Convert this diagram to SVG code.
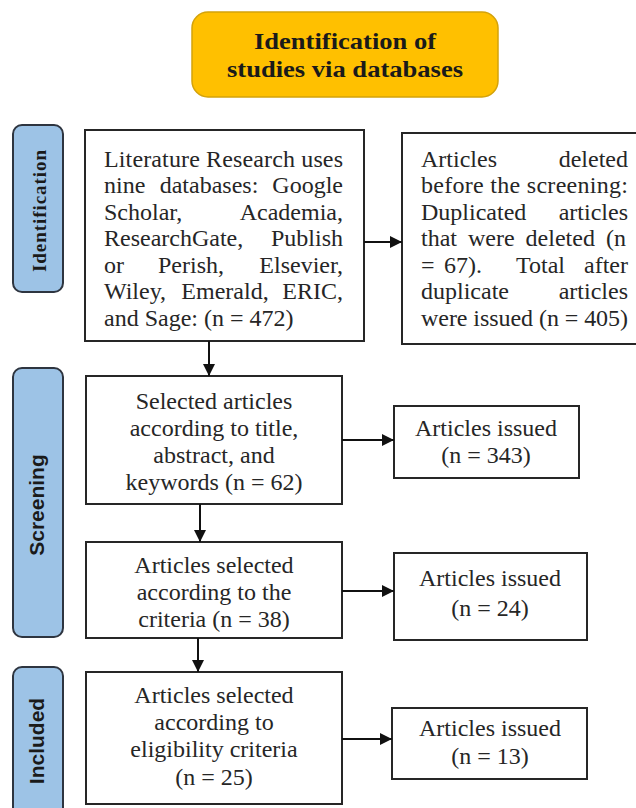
<svg xmlns="http://www.w3.org/2000/svg" width="636" height="808" viewBox="0 0 636 808">
<defs>
<style>
.box{fill:#ffffff;stroke:#262626;stroke-width:2}
.phase{fill:#9dc3e6;stroke:#2e3540;stroke-width:2}
.t{font-family:"Liberation Serif","Times New Roman",serif;font-size:24px;fill:#262626}
.c{text-anchor:middle}
.e{text-anchor:end}
.m{text-anchor:middle}
.ph{font-family:"Liberation Sans",Arial,sans-serif;font-size:21px;font-weight:bold;fill:#1a1a1a;text-anchor:middle}
.conn{stroke:#111;stroke-width:2;fill:none}
</style>
<marker id="arr" markerUnits="userSpaceOnUse" markerWidth="14" markerHeight="14" refX="12" refY="6" orient="auto">
<path d="M0,0 L12,6 L0,12 Z" fill="#111"/>
</marker>
</defs>
<rect width="636" height="808" fill="#ffffff"/>

<g id="header">
<rect x="192" y="12" width="306" height="85" rx="16" fill="#ffc000" stroke="#d4a20a" stroke-width="1.5"/>
<text x="345" y="49" font-family="Liberation Serif,serif" font-size="24" font-weight="bold" fill="#1a1a1a" text-anchor="middle" textLength="182" lengthAdjust="spacingAndGlyphs">Identification of</text>
<text x="345" y="77" font-family="Liberation Serif,serif" font-size="24" font-weight="bold" fill="#1a1a1a" text-anchor="middle" textLength="236" lengthAdjust="spacingAndGlyphs">studies via databases</text>
</g>

<g id="phase-identification">
<rect class="phase" x="13" y="125" width="50" height="167" rx="9"/>
<text transform="translate(46,211) rotate(-90)" font-family="Liberation Serif,serif" font-size="19" font-weight="bold" fill="#1a1a1a" text-anchor="middle" textLength="122" lengthAdjust="spacing">Identification</text>
</g>

<g id="phase-screening">
<rect class="phase" x="13" y="368" width="50" height="269" rx="9"/>
<text class="ph" transform="translate(44,505) rotate(-90)">Screening</text>
</g>

<g id="phase-included">
<rect class="phase" x="13" y="667" width="50" height="160" rx="9"/>
<text class="ph" transform="translate(44,741) rotate(-90)">Included</text>
</g>

<g id="records-identified">
<rect class="box" x="85" y="130" width="279" height="211"/>
<text class="t" x="104" y="167" textLength="239" lengthAdjust="spacing">Literature Research uses</text>
<text class="t" x="104" y="193">nine</text>
<text class="t m" x="209" y="193">databases:</text>
<text class="t e" x="343" y="193">Google</text>
<text class="t" x="104" y="220">Scholar,</text>
<text class="t e" x="343" y="220">Academia,</text>
<text class="t" x="104" y="246">ResearchGate,</text>
<text class="t e" x="343" y="246">Publish</text>
<text class="t" x="104" y="273">or</text>
<text class="t m" x="191" y="273">Perish,</text>
<text class="t e" x="343" y="273">Elsevier,</text>
<text class="t" x="104" y="299">Wiley,</text>
<text class="t m" x="225" y="299">Emerald,</text>
<text class="t e" x="343" y="299">ERIC,</text>
<text class="t" x="104" y="326">and Sage: (n = 472)</text>
</g>

<g id="records-removed">
<rect class="box" x="402" y="133" width="240" height="211"/>
<text class="t" x="421" y="167">Articles</text>
<text class="t e" x="628" y="167">deleted</text>
<text class="t" x="421" y="193" textLength="207" lengthAdjust="spacing">before the screening:</text>
<text class="t" x="421" y="220">Duplicated</text>
<text class="t e" x="628" y="220">articles</text>
<text class="t" x="421" y="246" word-spacing="5">that were deleted (n</text>
<text class="t" x="421" y="273">=</text>
<text class="t" x="444" y="273">67).</text>
<text class="t" x="516" y="273">Total</text>
<text class="t e" x="628" y="273">after</text>
<text class="t" x="421" y="299">duplicate</text>
<text class="t e" x="628" y="299">articles</text>
<text class="t" x="421" y="326" textLength="207" lengthAdjust="spacing">were issued (n = 405)</text>
</g>

<g id="screened">
<rect class="box" x="86" y="376" width="256" height="128"/>
<text class="t c" x="214" y="409">Selected articles</text>
<text class="t c" x="214" y="436">according to title,</text>
<text class="t c" x="214" y="463">abstract, and</text>
<text class="t c" x="214" y="490">keywords (n = 62)</text>
</g>

<g id="excluded-1">
<rect class="box" x="394" y="406" width="185" height="72"/>
<text class="t c" x="486" y="436">Articles issued</text>
<text class="t c" x="486" y="463">(n = 343)</text>
</g>

<g id="criteria">
<rect class="box" x="86" y="542" width="256" height="96"/>
<text class="t c" x="214" y="573">Articles selected</text>
<text class="t c" x="214" y="600">according to the</text>
<text class="t c" x="214" y="627">criteria (n = 38)</text>
</g>

<g id="excluded-2">
<rect class="box" x="394" y="553" width="193" height="87"/>
<text class="t c" x="490" y="586">Articles issued</text>
<text class="t c" x="490" y="616">(n = 24)</text>
</g>

<g id="included">
<rect class="box" x="86" y="672" width="256" height="132"/>
<text class="t c" x="214" y="703">Articles selected</text>
<text class="t c" x="214" y="730">according to</text>
<text class="t c" x="214" y="757">eligibility criteria</text>
<text class="t c" x="214" y="785">(n = 25)</text>
</g>

<g id="excluded-3">
<rect class="box" x="392" y="708" width="195" height="71"/>
<text class="t c" x="490" y="736">Articles issued</text>
<text class="t c" x="490" y="764">(n = 13)</text>
</g>

<g id="connectors">
<line class="conn" x1="364" y1="242" x2="402" y2="242" marker-end="url(#arr)"/>
<line class="conn" x1="209" y1="341" x2="209" y2="376" marker-end="url(#arr)"/>
<line class="conn" x1="342" y1="440" x2="394" y2="440" marker-end="url(#arr)"/>
<line class="conn" x1="200" y1="504" x2="200" y2="542" marker-end="url(#arr)"/>
<line class="conn" x1="342" y1="591" x2="394" y2="591" marker-end="url(#arr)"/>
<line class="conn" x1="198" y1="638" x2="198" y2="672" marker-end="url(#arr)"/>
<line class="conn" x1="342" y1="739" x2="392" y2="739" marker-end="url(#arr)"/>
</g>
</svg>
